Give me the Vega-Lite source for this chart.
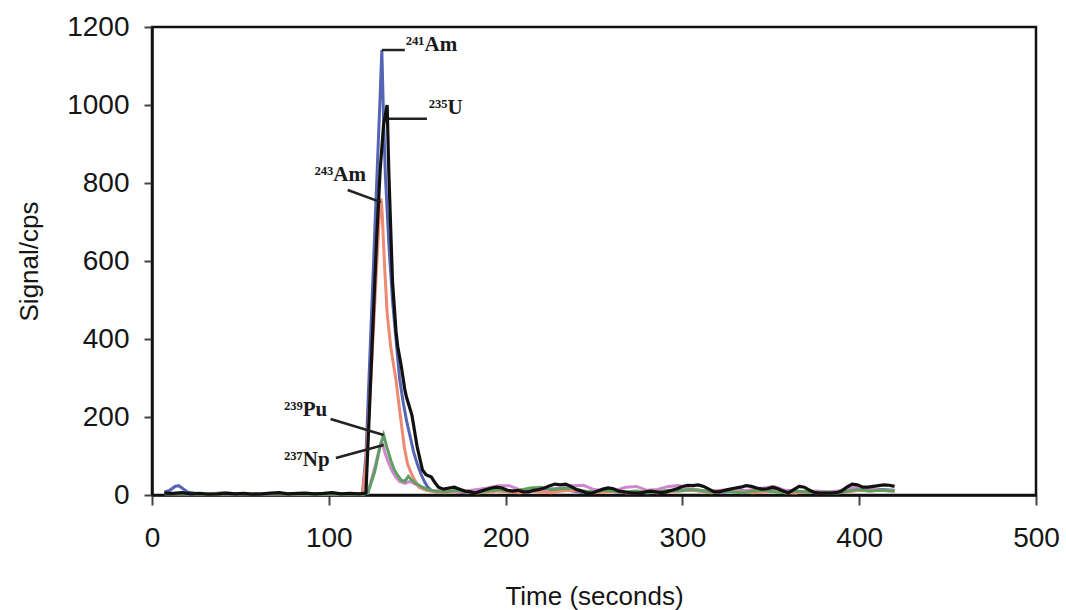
{
  "$schema": "https://vega.github.io/schema/vega-lite/v6.json",
  "width": 884,
  "height": 468,
  "autosize": {"type": "none"},
  "padding": {"left": 152, "top": 27, "right": 30, "bottom": 115},
  "background": "white",
  "config": {
    "view": {"stroke": "#111", "strokeWidth": 2.5},
    "axis": {"grid": false, "labelFont": "Liberation Sans", "titleFont": "Liberation Sans", "labelFontSize": 28, "titleFontSize": 26, "titleFontWeight": "normal", "labelColor": "#151515", "titleColor": "#151515", "domainColor": "#111", "domainWidth": 2.5, "tickColor": "#444", "tickWidth": 2, "labelFlush": false, "format": "d"}
  },
  "datasets": {
    "sig": [
      {"t":7,"iso":"241Am","cps":8},{"t":10,"iso":"241Am","cps":12},{"t":13,"iso":"241Am","cps":22},{"t":15,"iso":"241Am","cps":24},{"t":17,"iso":"241Am","cps":18},{"t":20,"iso":"241Am","cps":8},{"t":25,"iso":"241Am","cps":4},{"t":32,"iso":"241Am","cps":3},{"t":40,"iso":"241Am","cps":5},{"t":48,"iso":"241Am","cps":3},{"t":56,"iso":"241Am","cps":4},{"t":64,"iso":"241Am","cps":2},{"t":72,"iso":"241Am","cps":3},{"t":80,"iso":"241Am","cps":4},{"t":88,"iso":"241Am","cps":3},{"t":96,"iso":"241Am","cps":4},{"t":104,"iso":"241Am","cps":3},{"t":112,"iso":"241Am","cps":4},{"t":119,"iso":"241Am","cps":3},
      {"t":121,"iso":"241Am","cps":100},{"t":123,"iso":"241Am","cps":330},{"t":125,"iso":"241Am","cps":560},{"t":127,"iso":"241Am","cps":790},{"t":129,"iso":"241Am","cps":1020},{"t":130,"iso":"241Am","cps":1141},{"t":131,"iso":"241Am","cps":960},{"t":132,"iso":"241Am","cps":820},{"t":134,"iso":"241Am","cps":640},{"t":136,"iso":"241Am","cps":500},{"t":138,"iso":"241Am","cps":400},{"t":140,"iso":"241Am","cps":300},{"t":142,"iso":"241Am","cps":240},{"t":144,"iso":"241Am","cps":190},{"t":146,"iso":"241Am","cps":150},{"t":148,"iso":"241Am","cps":110},{"t":150,"iso":"241Am","cps":80},{"t":152,"iso":"241Am","cps":55},{"t":154,"iso":"241Am","cps":35},{"t":156,"iso":"241Am","cps":20},{"t":158,"iso":"241Am","cps":12},{"t":161,"iso":"241Am","cps":8},
      {"t":166,"iso":"241Am","cps":10},{"t":172,"iso":"241Am","cps":8},{"t":178,"iso":"241Am","cps":6},{"t":184,"iso":"241Am","cps":8},{"t":190,"iso":"241Am","cps":10},{"t":196,"iso":"241Am","cps":12},{"t":202,"iso":"241Am","cps":8},{"t":208,"iso":"241Am","cps":6},{"t":214,"iso":"241Am","cps":10},{"t":220,"iso":"241Am","cps":12},{"t":226,"iso":"241Am","cps":8},{"t":232,"iso":"241Am","cps":14},{"t":238,"iso":"241Am","cps":10},{"t":244,"iso":"241Am","cps":6},{"t":250,"iso":"241Am","cps":8},{"t":256,"iso":"241Am","cps":12},{"t":262,"iso":"241Am","cps":8},{"t":268,"iso":"241Am","cps":6},{"t":274,"iso":"241Am","cps":8},{"t":280,"iso":"241Am","cps":5},{"t":286,"iso":"241Am","cps":8},{"t":292,"iso":"241Am","cps":10},{"t":298,"iso":"241Am","cps":12},{"t":304,"iso":"241Am","cps":14},{"t":310,"iso":"241Am","cps":10},{"t":316,"iso":"241Am","cps":8},{"t":322,"iso":"241Am","cps":6},{"t":328,"iso":"241Am","cps":10},{"t":334,"iso":"241Am","cps":12},{"t":340,"iso":"241Am","cps":8},{"t":346,"iso":"241Am","cps":10},{"t":352,"iso":"241Am","cps":12},{"t":358,"iso":"241Am","cps":8},{"t":364,"iso":"241Am","cps":6},{"t":370,"iso":"241Am","cps":10},{"t":376,"iso":"241Am","cps":8},{"t":382,"iso":"241Am","cps":5},{"t":388,"iso":"241Am","cps":6},{"t":394,"iso":"241Am","cps":10},{"t":400,"iso":"241Am","cps":14},{"t":406,"iso":"241Am","cps":12},{"t":412,"iso":"241Am","cps":14},{"t":420,"iso":"241Am","cps":12},

      {"t":7,"iso":"237Np","cps":3},{"t":30,"iso":"237Np","cps":2},{"t":60,"iso":"237Np","cps":3},{"t":90,"iso":"237Np","cps":2},{"t":119,"iso":"237Np","cps":2},{"t":122,"iso":"237Np","cps":5},{"t":126,"iso":"237Np","cps":70},{"t":129,"iso":"237Np","cps":125},{"t":130.5,"iso":"237Np","cps":130},{"t":132,"iso":"237Np","cps":105},{"t":134,"iso":"237Np","cps":80},{"t":136,"iso":"237Np","cps":60},{"t":138,"iso":"237Np","cps":45},{"t":140,"iso":"237Np","cps":35},{"t":143,"iso":"237Np","cps":30},{"t":146,"iso":"237Np","cps":35},{"t":149,"iso":"237Np","cps":28},{"t":152,"iso":"237Np","cps":20},{"t":156,"iso":"237Np","cps":12},
      {"t":160,"iso":"237Np","cps":10},{"t":166,"iso":"237Np","cps":12},{"t":172,"iso":"237Np","cps":8},{"t":178,"iso":"237Np","cps":10},{"t":184,"iso":"237Np","cps":14},{"t":190,"iso":"237Np","cps":18},{"t":196,"iso":"237Np","cps":24},{"t":202,"iso":"237Np","cps":24},{"t":208,"iso":"237Np","cps":14},{"t":214,"iso":"237Np","cps":10},{"t":220,"iso":"237Np","cps":12},{"t":226,"iso":"237Np","cps":16},{"t":232,"iso":"237Np","cps":18},{"t":238,"iso":"237Np","cps":24},{"t":244,"iso":"237Np","cps":25},{"t":250,"iso":"237Np","cps":14},{"t":256,"iso":"237Np","cps":10},{"t":262,"iso":"237Np","cps":12},{"t":268,"iso":"237Np","cps":20},{"t":274,"iso":"237Np","cps":22},{"t":280,"iso":"237Np","cps":12},{"t":286,"iso":"237Np","cps":14},{"t":292,"iso":"237Np","cps":22},{"t":298,"iso":"237Np","cps":24},{"t":304,"iso":"237Np","cps":16},{"t":310,"iso":"237Np","cps":12},{"t":316,"iso":"237Np","cps":10},{"t":322,"iso":"237Np","cps":12},{"t":328,"iso":"237Np","cps":14},{"t":334,"iso":"237Np","cps":10},{"t":340,"iso":"237Np","cps":14},{"t":346,"iso":"237Np","cps":18},{"t":352,"iso":"237Np","cps":22},{"t":358,"iso":"237Np","cps":12},{"t":364,"iso":"237Np","cps":10},{"t":370,"iso":"237Np","cps":8},{"t":376,"iso":"237Np","cps":10},{"t":382,"iso":"237Np","cps":8},{"t":388,"iso":"237Np","cps":10},{"t":394,"iso":"237Np","cps":18},{"t":400,"iso":"237Np","cps":20},{"t":406,"iso":"237Np","cps":16},{"t":412,"iso":"237Np","cps":12},{"t":420,"iso":"237Np","cps":10},

      {"t":7,"iso":"243Am","cps":4},{"t":20,"iso":"243Am","cps":3},{"t":35,"iso":"243Am","cps":4},{"t":50,"iso":"243Am","cps":3},{"t":65,"iso":"243Am","cps":4},{"t":80,"iso":"243Am","cps":3},{"t":95,"iso":"243Am","cps":4},{"t":110,"iso":"243Am","cps":3},{"t":119,"iso":"243Am","cps":3},
      {"t":121,"iso":"243Am","cps":80},{"t":123,"iso":"243Am","cps":230},{"t":125,"iso":"243Am","cps":400},{"t":127,"iso":"243Am","cps":580},{"t":129,"iso":"243Am","cps":750},{"t":129.6,"iso":"243Am","cps":760},{"t":130.2,"iso":"243Am","cps":723},{"t":131.5,"iso":"243Am","cps":590},{"t":133,"iso":"243Am","cps":467},{"t":135,"iso":"243Am","cps":380},{"t":138,"iso":"243Am","cps":295},{"t":140,"iso":"243Am","cps":220},{"t":142.7,"iso":"243Am","cps":123},{"t":144.5,"iso":"243Am","cps":80},{"t":146.6,"iso":"243Am","cps":56},{"t":149,"iso":"243Am","cps":35},{"t":151,"iso":"243Am","cps":20},{"t":155,"iso":"243Am","cps":12},
      {"t":160,"iso":"243Am","cps":8},{"t":166,"iso":"243Am","cps":6},{"t":172,"iso":"243Am","cps":10},{"t":178,"iso":"243Am","cps":8},{"t":184,"iso":"243Am","cps":5},{"t":190,"iso":"243Am","cps":8},{"t":196,"iso":"243Am","cps":10},{"t":202,"iso":"243Am","cps":8},{"t":208,"iso":"243Am","cps":6},{"t":214,"iso":"243Am","cps":10},{"t":220,"iso":"243Am","cps":8},{"t":226,"iso":"243Am","cps":6},{"t":232,"iso":"243Am","cps":10},{"t":238,"iso":"243Am","cps":12},{"t":244,"iso":"243Am","cps":8},{"t":250,"iso":"243Am","cps":6},{"t":256,"iso":"243Am","cps":8},{"t":262,"iso":"243Am","cps":10},{"t":268,"iso":"243Am","cps":6},{"t":274,"iso":"243Am","cps":5},{"t":280,"iso":"243Am","cps":8},{"t":286,"iso":"243Am","cps":6},{"t":292,"iso":"243Am","cps":8},{"t":298,"iso":"243Am","cps":10},{"t":304,"iso":"243Am","cps":12},{"t":310,"iso":"243Am","cps":10},{"t":316,"iso":"243Am","cps":6},{"t":322,"iso":"243Am","cps":8},{"t":328,"iso":"243Am","cps":10},{"t":334,"iso":"243Am","cps":8},{"t":340,"iso":"243Am","cps":6},{"t":346,"iso":"243Am","cps":8},{"t":352,"iso":"243Am","cps":10},{"t":358,"iso":"243Am","cps":6},{"t":364,"iso":"243Am","cps":5},{"t":370,"iso":"243Am","cps":8},{"t":376,"iso":"243Am","cps":6},{"t":382,"iso":"243Am","cps":5},{"t":388,"iso":"243Am","cps":6},{"t":394,"iso":"243Am","cps":8},{"t":400,"iso":"243Am","cps":12},{"t":406,"iso":"243Am","cps":10},{"t":412,"iso":"243Am","cps":12},{"t":420,"iso":"243Am","cps":10},

      {"t":7,"iso":"239Pu","cps":3},{"t":30,"iso":"239Pu","cps":2},{"t":60,"iso":"239Pu","cps":3},{"t":90,"iso":"239Pu","cps":2},{"t":119,"iso":"239Pu","cps":2},{"t":122,"iso":"239Pu","cps":4},{"t":126,"iso":"239Pu","cps":60},{"t":129,"iso":"239Pu","cps":125},{"t":131,"iso":"239Pu","cps":154},{"t":133,"iso":"239Pu","cps":120},{"t":135,"iso":"239Pu","cps":90},{"t":137,"iso":"239Pu","cps":65},{"t":139,"iso":"239Pu","cps":50},{"t":141,"iso":"239Pu","cps":38},{"t":143,"iso":"239Pu","cps":35},{"t":145,"iso":"239Pu","cps":48},{"t":147,"iso":"239Pu","cps":38},{"t":149,"iso":"239Pu","cps":30},{"t":151,"iso":"239Pu","cps":25},{"t":153,"iso":"239Pu","cps":20},{"t":156,"iso":"239Pu","cps":14},
      {"t":160,"iso":"239Pu","cps":10},{"t":166,"iso":"239Pu","cps":8},{"t":172,"iso":"239Pu","cps":12},{"t":178,"iso":"239Pu","cps":8},{"t":184,"iso":"239Pu","cps":6},{"t":190,"iso":"239Pu","cps":10},{"t":196,"iso":"239Pu","cps":14},{"t":202,"iso":"239Pu","cps":10},{"t":208,"iso":"239Pu","cps":12},{"t":214,"iso":"239Pu","cps":18},{"t":220,"iso":"239Pu","cps":20},{"t":226,"iso":"239Pu","cps":14},{"t":232,"iso":"239Pu","cps":16},{"t":238,"iso":"239Pu","cps":18},{"t":244,"iso":"239Pu","cps":10},{"t":250,"iso":"239Pu","cps":8},{"t":256,"iso":"239Pu","cps":12},{"t":262,"iso":"239Pu","cps":10},{"t":268,"iso":"239Pu","cps":8},{"t":274,"iso":"239Pu","cps":10},{"t":280,"iso":"239Pu","cps":6},{"t":286,"iso":"239Pu","cps":8},{"t":292,"iso":"239Pu","cps":12},{"t":298,"iso":"239Pu","cps":10},{"t":304,"iso":"239Pu","cps":14},{"t":310,"iso":"239Pu","cps":12},{"t":316,"iso":"239Pu","cps":8},{"t":322,"iso":"239Pu","cps":10},{"t":328,"iso":"239Pu","cps":8},{"t":334,"iso":"239Pu","cps":6},{"t":340,"iso":"239Pu","cps":10},{"t":346,"iso":"239Pu","cps":12},{"t":352,"iso":"239Pu","cps":8},{"t":358,"iso":"239Pu","cps":6},{"t":364,"iso":"239Pu","cps":10},{"t":370,"iso":"239Pu","cps":8},{"t":376,"iso":"239Pu","cps":6},{"t":382,"iso":"239Pu","cps":8},{"t":388,"iso":"239Pu","cps":6},{"t":394,"iso":"239Pu","cps":10},{"t":400,"iso":"239Pu","cps":14},{"t":406,"iso":"239Pu","cps":10},{"t":412,"iso":"239Pu","cps":12},{"t":420,"iso":"239Pu","cps":10},

      {"t":7,"iso":"235U","cps":5},{"t":12,"iso":"235U","cps":4},{"t":17,"iso":"235U","cps":6},{"t":22,"iso":"235U","cps":3},{"t":27,"iso":"235U","cps":4},{"t":32,"iso":"235U","cps":2},{"t":37,"iso":"235U","cps":3},{"t":42,"iso":"235U","cps":5},{"t":47,"iso":"235U","cps":3},{"t":52,"iso":"235U","cps":4},{"t":57,"iso":"235U","cps":2},{"t":62,"iso":"235U","cps":3},{"t":67,"iso":"235U","cps":5},{"t":72,"iso":"235U","cps":6},{"t":77,"iso":"235U","cps":3},{"t":82,"iso":"235U","cps":4},{"t":87,"iso":"235U","cps":5},{"t":92,"iso":"235U","cps":3},{"t":97,"iso":"235U","cps":4},{"t":102,"iso":"235U","cps":6},{"t":107,"iso":"235U","cps":3},{"t":112,"iso":"235U","cps":4},{"t":117,"iso":"235U","cps":3},{"t":121,"iso":"235U","cps":5},
      {"t":123,"iso":"235U","cps":220},{"t":125,"iso":"235U","cps":440},{"t":127,"iso":"235U","cps":650},{"t":129,"iso":"235U","cps":830},{"t":131,"iso":"235U","cps":950},{"t":133,"iso":"235U","cps":1000},{"t":134,"iso":"235U","cps":820},{"t":136,"iso":"235U","cps":550},{"t":138,"iso":"235U","cps":420},{"t":139,"iso":"235U","cps":380},{"t":141,"iso":"235U","cps":330},{"t":143,"iso":"235U","cps":270},{"t":144,"iso":"235U","cps":250},{"t":147,"iso":"235U","cps":205},{"t":150,"iso":"235U","cps":123},{"t":153,"iso":"235U","cps":64},{"t":155,"iso":"235U","cps":52},{"t":158,"iso":"235U","cps":46},{"t":160,"iso":"235U","cps":32},{"t":162,"iso":"235U","cps":20},
      {"t":165,"iso":"235U","cps":15},{"t":168,"iso":"235U","cps":18},{"t":171,"iso":"235U","cps":20},{"t":174,"iso":"235U","cps":15},{"t":177,"iso":"235U","cps":10},{"t":180,"iso":"235U","cps":8},{"t":183,"iso":"235U","cps":5},{"t":186,"iso":"235U","cps":10},{"t":189,"iso":"235U","cps":14},{"t":192,"iso":"235U","cps":18},{"t":195,"iso":"235U","cps":20},{"t":198,"iso":"235U","cps":18},{"t":201,"iso":"235U","cps":12},{"t":204,"iso":"235U","cps":10},{"t":207,"iso":"235U","cps":12},{"t":210,"iso":"235U","cps":8},{"t":213,"iso":"235U","cps":8},{"t":216,"iso":"235U","cps":12},{"t":219,"iso":"235U","cps":14},{"t":222,"iso":"235U","cps":18},{"t":225,"iso":"235U","cps":24},{"t":228,"iso":"235U","cps":28},{"t":231,"iso":"235U","cps":26},{"t":234,"iso":"235U","cps":28},{"t":237,"iso":"235U","cps":22},{"t":240,"iso":"235U","cps":14},{"t":243,"iso":"235U","cps":10},{"t":246,"iso":"235U","cps":5},{"t":249,"iso":"235U","cps":5},{"t":252,"iso":"235U","cps":10},{"t":255,"iso":"235U","cps":15},{"t":258,"iso":"235U","cps":18},{"t":261,"iso":"235U","cps":16},{"t":264,"iso":"235U","cps":10},{"t":267,"iso":"235U","cps":8},{"t":270,"iso":"235U","cps":6},{"t":273,"iso":"235U","cps":5},{"t":276,"iso":"235U","cps":5},{"t":279,"iso":"235U","cps":8},{"t":282,"iso":"235U","cps":10},{"t":285,"iso":"235U","cps":8},{"t":288,"iso":"235U","cps":6},{"t":291,"iso":"235U","cps":8},{"t":294,"iso":"235U","cps":12},{"t":297,"iso":"235U","cps":16},{"t":300,"iso":"235U","cps":22},{"t":303,"iso":"235U","cps":25},{"t":306,"iso":"235U","cps":24},{"t":309,"iso":"235U","cps":26},{"t":312,"iso":"235U","cps":22},{"t":315,"iso":"235U","cps":15},{"t":318,"iso":"235U","cps":8},{"t":321,"iso":"235U","cps":8},{"t":324,"iso":"235U","cps":12},{"t":327,"iso":"235U","cps":15},{"t":330,"iso":"235U","cps":18},{"t":333,"iso":"235U","cps":20},{"t":336,"iso":"235U","cps":24},{"t":339,"iso":"235U","cps":22},{"t":342,"iso":"235U","cps":18},{"t":345,"iso":"235U","cps":15},{"t":348,"iso":"235U","cps":16},{"t":351,"iso":"235U","cps":20},{"t":354,"iso":"235U","cps":16},{"t":357,"iso":"235U","cps":10},{"t":360,"iso":"235U","cps":6},{"t":363,"iso":"235U","cps":14},{"t":366,"iso":"235U","cps":22},{"t":369,"iso":"235U","cps":20},{"t":372,"iso":"235U","cps":12},{"t":375,"iso":"235U","cps":6},{"t":378,"iso":"235U","cps":5},{"t":381,"iso":"235U","cps":5},{"t":384,"iso":"235U","cps":5},{"t":387,"iso":"235U","cps":6},{"t":390,"iso":"235U","cps":10},{"t":393,"iso":"235U","cps":20},{"t":396,"iso":"235U","cps":28},{"t":399,"iso":"235U","cps":26},{"t":402,"iso":"235U","cps":20},{"t":405,"iso":"235U","cps":20},{"t":408,"iso":"235U","cps":22},{"t":411,"iso":"235U","cps":24},{"t":414,"iso":"235U","cps":26},{"t":417,"iso":"235U","cps":25},{"t":420,"iso":"235U","cps":22}
    ],
    "labels": [
      {"label":"²⁴¹Am","t":143.5,"cps":1154,"side":"left"},
      {"label":"²³⁵U","t":156.5,"cps":992,"side":"left"},
      {"label":"²⁴³Am","t":121,"cps":820,"side":"right"},
      {"label":"²³⁹Pu","t":74.6,"cps":218,"side":"left"},
      {"label":"²³⁷Np","t":74.6,"cps":90,"side":"left"}
    ],
    "leaders": [
      {"t":130,"cps":1141,"t2":143,"cps2":1141},
      {"t":134,"cps":965,"t2":155.5,"cps2":965},
      {"t":110.7,"cps":782,"t2":129.4,"cps2":751},
      {"t":101,"cps":195,"t2":131,"cps2":154},
      {"t":104,"cps":95,"t2":131,"cps2":128}
    ]
  },
  "encoding": {
    "x": {"field": "t", "type": "quantitative", "scale": {"domain": [0, 500], "nice": false},
      "axis": {"values": [0,100,200,300,400,500], "title": "Time (seconds)", "tickSize": 10, "labelPadding": 19, "titlePadding": 31}},
    "y": {"field": "cps", "type": "quantitative", "scale": {"domain": [0, 1200], "nice": false},
      "axis": {"values": [0,200,400,600,800,1000,1200], "title": "Signal/cps", "tickSize": 8, "labelPadding": 15, "titlePadding": 24}}
  },
  "layer": [
    {"data": {"name": "sig"}, "transform": [{"filter": "datum.iso == '241Am'"}], "mark": {"type": "line", "color": "#5564b4", "strokeWidth": 3}},
    {"data": {"name": "sig"}, "transform": [{"filter": "datum.iso == '237Np'"}], "mark": {"type": "line", "color": "#cf86cc", "strokeWidth": 3}},
    {"data": {"name": "sig"}, "transform": [{"filter": "datum.iso == '243Am'"}], "mark": {"type": "line", "color": "#ec8a72", "strokeWidth": 3}},
    {"data": {"name": "sig"}, "transform": [{"filter": "datum.iso == '239Pu'"}], "mark": {"type": "line", "color": "#5f9e62", "strokeWidth": 3}},
    {"data": {"name": "sig"}, "transform": [{"filter": "datum.iso == '235U'"}], "mark": {"type": "line", "color": "#111111", "strokeWidth": 3.2}},
    {"data": {"name": "leaders"}, "mark": {"type": "rule", "color": "#222", "strokeWidth": 2.5},
      "encoding": {"x2": {"field": "t2"}, "y2": {"field": "cps2"}}},
    {"data": {"name": "labels"}, "transform": [{"filter": "datum.side == 'left'"}], "mark": {"type": "text", "align": "left", "baseline": "middle", "font": "Liberation Serif", "fontWeight": "bold", "fontSize": 21, "color": "#1a1a1a"},
      "encoding": {"text": {"field": "label"}}},
    {"data": {"name": "labels"}, "transform": [{"filter": "datum.side == 'right'"}], "mark": {"type": "text", "align": "right", "baseline": "middle", "font": "Liberation Serif", "fontWeight": "bold", "fontSize": 21, "color": "#1a1a1a"},
      "encoding": {"text": {"field": "label"}}}
  ]
}
